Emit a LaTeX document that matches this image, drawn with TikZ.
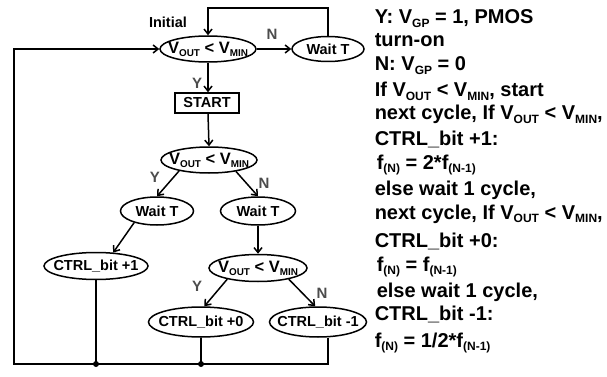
\documentclass[tikz,border=0pt]{standalone}
\usepackage{fontspec}
\setmainfont{Liberation Sans}
\usetikzlibrary{shapes,positioning,arrows.meta}
\usetikzlibrary{calc}

\newcommand{\sbs}[1]{\raisebox{-0.18em}{\scalebox{0.6}{#1}}}
\newcommand{\vcond}{V\sbs{OUT} < V\sbs{MIN}}

\tikzset{
  ctext/.style={inner sep=0pt,font=\fontsize{16.5}{19}\selectfont\bfseries},
  otext/.style={inner sep=0pt,font=\fontsize{14.5}{17}\selectfont\bfseries},
  cond/.style={ellipse,draw,inner sep=0pt,minimum width=96pt,minimum height=26pt,
    label={[ctext]center:\vcond}},
  oval/.style={ellipse,draw,inner sep=0pt,minimum height=28pt,
    label={[otext]center:#1}},
  startbox/.style={rectangle,draw,inner sep=0pt,minimum width=64pt,minimum height=20pt,
    font=\fontsize{14.5}{17}\selectfont\bfseries},
  yn/.style={text=black!70,inner sep=0pt,font=\fontsize{15}{18}\selectfont\bfseries},
  note/.style={anchor=base west,inner sep=0pt,font=\fontsize{20}{24}\selectfont\bfseries},
  arr/.style={-{Straight Barb[length=5pt,width=8pt]}}
}

\begin{document}
\begin{tikzpicture}[x=1pt,y=-1pt,line width=1.5pt]
    \useasboundingbox (0,0) rectangle (607,377);

    % flow chart
    \node[cond] (c1) at (208,49) {};
    \node[otext] (init) at (168,22) {Initial};
    \node[oval={Wait T},minimum width=72pt,minimum height=25pt] (w1) at (328,49) {};
    \node[startbox] (start) at (207,103) {START};
    \node[cond] (c2) at (209,160) {};
    \node[oval={Wait T},minimum width=73pt] (w2) at (157,211) {};
    \node[oval={Wait T},minimum width=75pt] (w3) at (258,211) {};
    \node[oval={CTRL\_bit +1},minimum width=104pt,minimum height=27pt] (b1) at (96,266) {};
    \node[cond,minimum width=98pt,minimum height=27pt] (c3) at (258,268) {};
    \node[oval={CTRL\_bit +0},minimum width=105pt,minimum height=30pt] (b0) at (201,322) {};
    \node[oval={CTRL\_bit -1},minimum width=97pt,minimum height=30pt] (bm) at (318,322) {};

    \coordinate (br) at (328,364);
    \coordinate (bl) at (14,364);
    \coordinate (j1) at (b1.south |- br);
    \coordinate (j2) at (b0.south |- br);

    \draw[arr] (c1) -- (w1);
    \draw[arr] (w1.north) |- (c1.north |- 0,8) -- (c1.north);
    \draw[arr] (c1.south) -- (c1.south |- start.north);
    \draw[arr] (start.south -| c1.south) -- (c2.north);
    \draw[arr] (c2.200) -- (w2.north);
    \draw[arr] (c2.337) -- (w3.north);
    \draw[arr] (w2.207) -- (b1.38);
    \draw[arr] (w3.south) -- (c3.north);
    \draw[arr] (c3.200) -- (b0.78);
    \draw[arr] (c3.340) -- (bm.100);
    \draw (b1.south) -- (j1);
    \draw (b0.south) -- (j2);
    \draw[arr] (br |- bm.south) -- (br) -- (bl) |- (c1.west);
    \fill (j1) circle (3);
    \fill (j2) circle (3);

    \node[yn] (n1) at (272,34) {N};
    \node[yn] (y1) at (197,83) {Y};
    \node[yn] (y2) at (155,177) {Y};
    \node[yn] (n2) at (264,183) {N};
    \node[yn] (y3) at (197,286) {Y};
    \node[yn] (n3) at (322,293) {N};

    % notes
    \node[note] (t1) at (374,24) {Y: V\sbs{GP} = 1, PMOS};
    \node[note] (t2) at (374,47) {turn-on};
    \node[note] (t3) at (374,71) {N: V\sbs{GP} = 0};
    \node[note] (t4) at (374,97) {If \vcond, start};
    \node[note] (t5) at (374,120) {next cycle, If \vcond,};
    \node[note] (t6) at (374,145) {CTRL\_bit +1:};
    \node[note] (t7) at (376,169) {f\sbs{(N)} = 2*f\sbs{(N-1)}};
    \node[note] (t8) at (374,195) {else wait 1 cycle,};
    \node[note] (t9) at (374,219) {next cycle, If \vcond,};
    \node[note] (t10) at (374,247) {CTRL\_bit +0:};
    \node[note] (t11) at (376,271) {f\sbs{(N)} = f\sbs{(N-1)}};
    \node[note] (t12) at (376,297) {else wait 1 cycle,};
    \node[note] (t13) at (374,320) {CTRL\_bit -1:};
    \node[note] (t14) at (374,347) {f\sbs{(N)} = 1/2*f\sbs{(N-1)}};

\end{tikzpicture}
\end{document}
